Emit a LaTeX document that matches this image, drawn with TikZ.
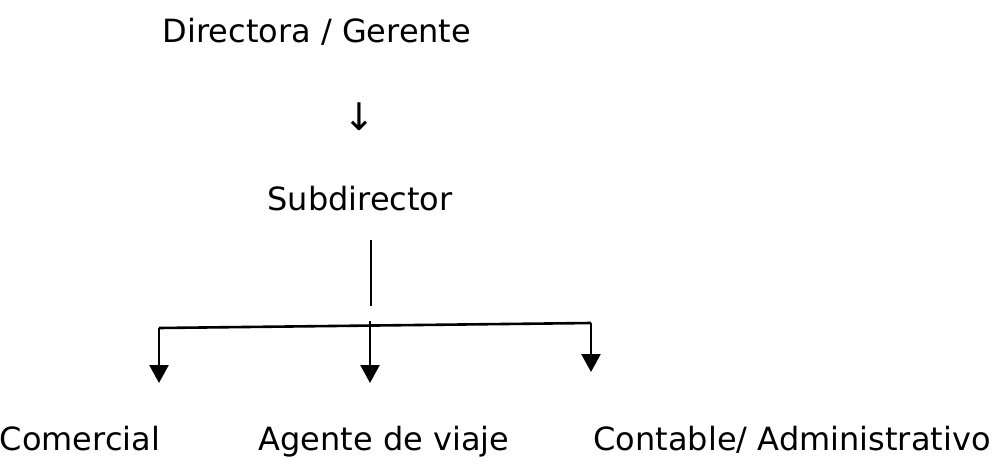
\documentclass[tikz,border=0pt]{standalone}
\usepackage{fontspec}
\setmainfont{DejaVu Sans}
\usetikzlibrary{arrows.meta}

\tikzset{
  cargo/.style={anchor=base, inner sep=0pt, font=\fontsize{32}{38}\selectfont},
  rama/.style={line width=2.6pt, -{Triangle[width=19pt,length=18pt]}},
}

\begin{document}
\begin{tikzpicture}[x=1pt,y=-1pt]
        \useasboundingbox (0,0) rectangle (992,466);
        \node[cargo] (dir) at (317,42) {Directora / Gerente};
        \node[cargo, font=\fontsize{38}{44}\selectfont] (flecha) at (359,130) {↓};
        \node[cargo] (sub) at (360,210) {Subdirector};
        \node[cargo] (com) at (80,450) {Comercial};
        \node[cargo] (age) at (384,450) {Agente de viaje};
        \node[cargo] (cont) at (792,450) {Contable/ Administrativo};
        \coordinate (t) at (371,240);
        \coordinate (m) at (371,306);
        \coordinate (hl) at (159,328);
        \coordinate (hr) at (591,323);
        \coordinate (hm) at (370,321);
        \draw[line width=1.8pt] (t) -- (m);
        \draw[line width=2.6pt] (hl) -- (hr);
        \draw[rama] (hl) -- (159,383);
        \draw[rama] (hm) -- (370,383);
        \draw[rama] (hr) -- (591,372);
    \end{tikzpicture}
\end{document}
